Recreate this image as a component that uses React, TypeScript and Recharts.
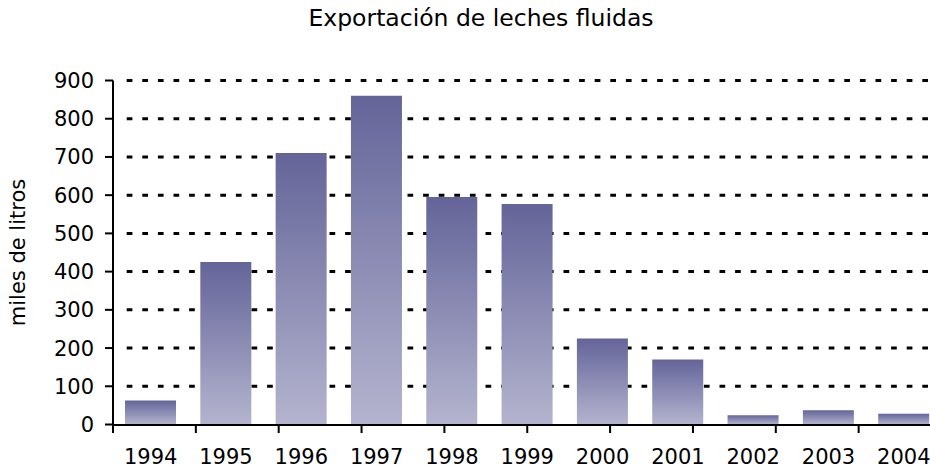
import React from "react";
import { BarChart, Bar, XAxis, YAxis, CartesianGrid, Label } from "recharts";

const years = ["1994", "1995", "1996", "1997", "1998", "1999", "2000", "2001", "2002", "2003", "2004"];
const exports = [63, 425, 710, 860, 595, 577, 225, 170, 24, 37, 28];
const yTicks = [0, 100, 200, 300, 400, 500, 600, 700, 800, 900];
// category boundaries, used only to draw the x tick marks between bars
const edges = years.map((_, i) => i).concat(years.length);

const data = years.map((year, i) => ({ year, value: exports[i] }));

const FONT = "'DejaVu Sans', Verdana, sans-serif";

// dashed gridline that starts a little after the axis, like the original
const gridLine = (p: any) => (
  <line
    key={p.key}
    x1={p.x1 + 13.7}
    x2={p.x2}
    y1={p.y1}
    y2={p.y2}
    stroke="#000"
    strokeWidth={3}
    strokeDasharray="5.7 9.9"
  />
);

const App: React.FC = () => (
  <div
    style={{
      position: "fixed", left: 0, top: 0, width: 930, height: 469,
      overflow: "hidden", background: "#fff", fontFamily: FONT,
    }}
  >
    <div
      style={{
        position: "absolute", left: 0, top: 7, width: 962, textAlign: "center",
        fontSize: 23.5, lineHeight: 1, color: "#000",
      }}
    >
      Exportación de leches fluidas
    </div>
    <BarChart
      width={960}
      height={469}
      data={data}
      margin={{ top: 80.5, right: 18.5, bottom: 0, left: 0 }}
      style={{ fontFamily: FONT }}
    >
      <defs>
        <linearGradient id="barFill" x1="0" y1="0" x2="0" y2="1">
          <stop offset="0%" stopColor="#646499" />
          <stop offset="100%" stopColor="#b4b4cf" />
        </linearGradient>
      </defs>
      <CartesianGrid vertical={false} horizontal={gridLine} horizontalValues={yTicks.slice(1)} />
      <XAxis
        dataKey="year"
        height={0.5}
        tickSize={0}
        tickMargin={25}
        axisLine={false}
        tickLine={false}
        interval={0}
        tick={{ fontSize: 21, fill: "#000" }}
      />
      <XAxis
        xAxisId="edges"
        type="number"
        domain={[0, edges.length - 1]}
        ticks={edges}
        allowDataOverflow
        height={44}
        tickSize={8}
        tickFormatter={() => ""}
        axisLine={{ stroke: "#000", strokeWidth: 2 }}
        tickLine={{ stroke: "#000", strokeWidth: 2 }}
      />
      <YAxis
        width={113}
        domain={[0, 900]}
        ticks={yTicks}
        interval={0}
        tickSize={8}
        tickMargin={11}
        axisLine={{ stroke: "#000", strokeWidth: 2 }}
        tickLine={{ stroke: "#000", strokeWidth: 2 }}
        tick={{ fontSize: 21, fill: "#000" }}
      >
        <Label
          value="miles de litros"
          angle={-90}
          position="insideLeft"
          offset={17.5}
          style={{ textAnchor: "middle", fontSize: 21, fill: "#000" }}
        />
      </YAxis>
      <Bar dataKey="value" fill="url(#barFill)" barSize={51} isAnimationActive={false} />
    </BarChart>
  </div>
);

export default App;
